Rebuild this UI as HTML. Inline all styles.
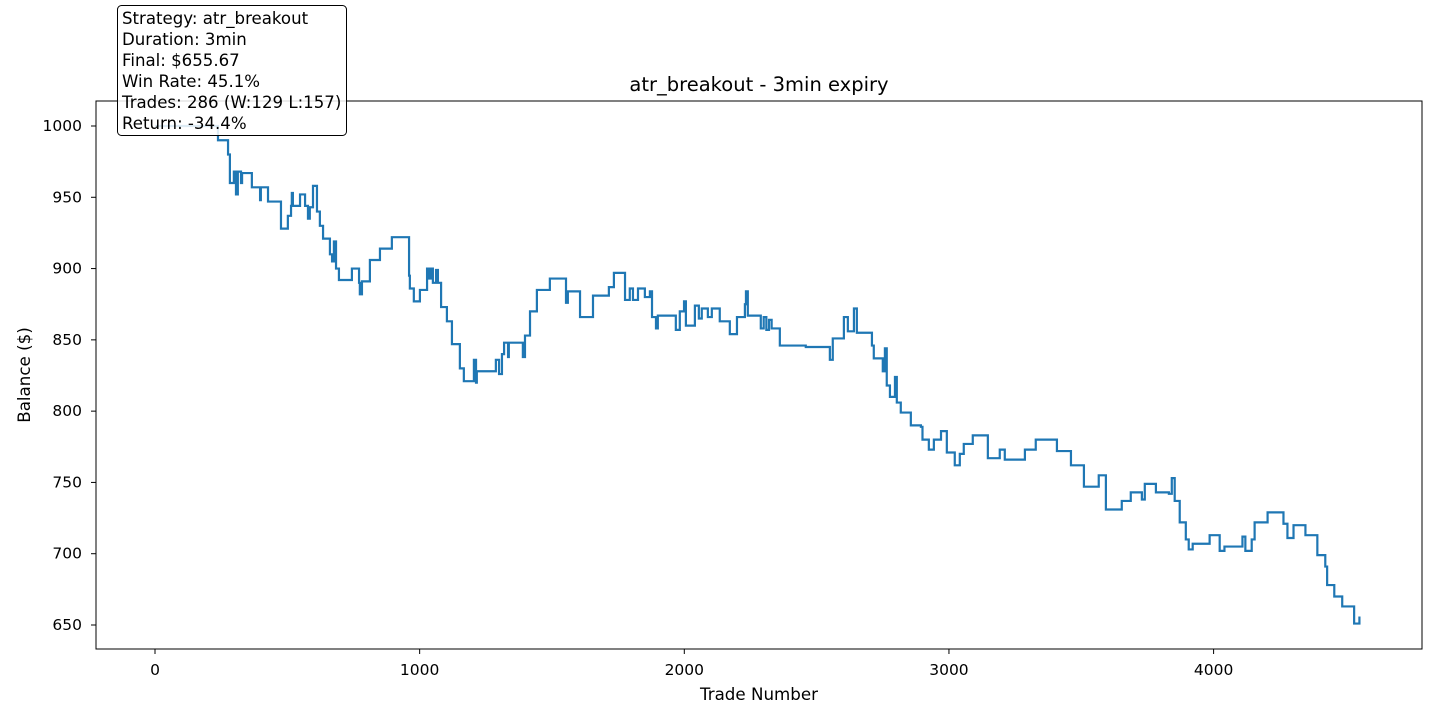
<!DOCTYPE html>
<html><head><meta charset="utf-8"><style>
body{margin:0;background:#fff;font-family:"Liberation Sans","DejaVu Sans",sans-serif;}
svg text{font-family:"DejaVu Sans","Liberation Sans",sans-serif;}
</style></head><body>
<svg id="chart" width="1440" height="720">
<rect x="0" y="0" width="1440" height="720" fill="#fff"/>
<text x="759" y="91" font-size="19.5" text-anchor="middle">atr_breakout - 3min expiry</text>
<g id="xticks"></g><g id="yticks"></g>
<path id="line" fill="none" stroke="#1f77b4" stroke-width="2.2"/>
<rect x="96" y="101" width="1326" height="548" fill="none" stroke="#000" stroke-width="1"/>
<text x="759" y="700" font-size="16.7" text-anchor="middle">Trade Number</text>
<text x="30" y="375" font-size="16.7" text-anchor="middle" transform="rotate(-90 30 375)">Balance ($)</text>
<g>
<rect x="117.5" y="5.5" width="229" height="130" rx="4" fill="#fff" fill-opacity="0.85" stroke="#000" stroke-width="1"/>
<text x="122" y="24" font-size="16.6">Strategy: atr_breakout</text>
<text x="122" y="45" font-size="16.6">Duration: 3min</text>
<text x="122" y="66" font-size="16.6">Final: $655.67</text>
<text x="122" y="87" font-size="16.6">Win Rate: 45.1%</text>
<text x="122" y="108" font-size="16.6">Trades: 286 (W:129 L:157)</text>
<text x="122" y="129" font-size="16.6">Return: -34.4%</text>
</g>
</svg>
<script>
const trades=[0,238,276,283,298,306,313,325,329,366,397,400,427,476,502,514,517,521,548,567,578,585,597,612,623,635,661,669,676,684,695,744,771,774,782,812,850,895,960,963,978,1001,1028,1035,1043,1050,1062,1069,1081,1103,1122,1152,1167,1205,1213,1216,1288,1300,1311,1319,1334,1337,1390,1398,1417,1443,1492,1553,1560,1606,1655,1715,1734,1776,1794,1806,1825,1851,1870,1878,1893,1900,1968,1983,1999,2006,2040,2055,2066,2089,2104,2134,2172,2199,2229,2233,2240,2286,2289,2300,2310,2320,2330,2361,2459,2550,2561,2603,2618,2641,2652,2709,2716,2743,2750,2758,2765,2777,2796,2803,2818,2856,2894,2900,2924,2943,2970,2992,3022,3041,3056,3090,3147,3192,3211,3287,3328,3408,3461,3510,3566,3593,3653,3687,3729,3740,3782,3831,3842,3853,3872,3895,3906,3921,3985,4023,4041,4109,4120,4144,4155,4204,4264,4279,4302,4347,4392,4422,4429,4456,4486,4531,4551];
const balances=[1000,990,980,960,968,952,968,960,967,957,948,957,947,928,937,944,953,944,952,944,935,943,958,940,930,921,910,905,919,900,892,900,890,882,891,906,914,922,895,886,877,885,900,893,900,890,899,890,873,863,847,830,821,836,820,828,836,826,840,848,838,848,838,853,870,885,893,876,884,866,881,887,897,878,886,878,886,880,884,866,858,867,857,870,877,860,874,865,872,866,872,863,854,866,875,884,867,867,858,866,857,864,858,846,845,836,851,866,856,872,855,846,837,837,828,844,818,810,824,806,799,790,789,780,773,780,786,771,762,770,777,783,767,773,766,773,780,772,762,747,755,731,737,743,738,749,743,742,753,737,722,710,703,707,713,702,705,712,702,710,722,729,721,711,720,713,699,691,678,670,663,651,656];
const xTicks=[0,1000,2000,3000,4000];
const yTicks=[650,700,750,800,850,900,950,1000];
const NS="http://www.w3.org/2000/svg";
function xs(v){return 155+v*0.26465;}
function ys(v){return 126+(1000-v)*1.4257;}
let d="M"+xs(trades[0])+","+ys(balances[0]);
for(let i=1;i<trades.length;i++){d+=" H"+xs(trades[i])+" V"+ys(balances[i]);}
document.getElementById('line').setAttribute('d',d);
const xg=document.getElementById('xticks');
xTicks.forEach(t=>{
 const l=document.createElementNS(NS,'line');
 l.setAttribute('x1',xs(t));l.setAttribute('x2',xs(t));l.setAttribute('y1',649);l.setAttribute('y2',654);l.setAttribute('stroke','#000');
 
 
 xg.appendChild(l);
 const tx=document.createElementNS(NS,'text');
 tx.setAttribute('x',xs(t));tx.setAttribute('y',675);tx.setAttribute('font-size','15.5');tx.setAttribute('text-anchor','middle');
 tx.textContent=t;
 
 
 xg.appendChild(tx);
});
const yg=document.getElementById('yticks');
yTicks.forEach(t=>{
 const l=document.createElementNS(NS,'line');
 l.setAttribute('x1',91);l.setAttribute('x2',96);l.setAttribute('y1',ys(t));l.setAttribute('y2',ys(t));l.setAttribute('stroke','#000');
 
 
 yg.appendChild(l);
 const tx=document.createElementNS(NS,'text');
 tx.setAttribute('x',82);tx.setAttribute('y',ys(t)+5);tx.setAttribute('font-size','15.5');tx.setAttribute('text-anchor','end');
 tx.textContent=t;
 
 
 yg.appendChild(tx);
});
</script>
</body></html>
